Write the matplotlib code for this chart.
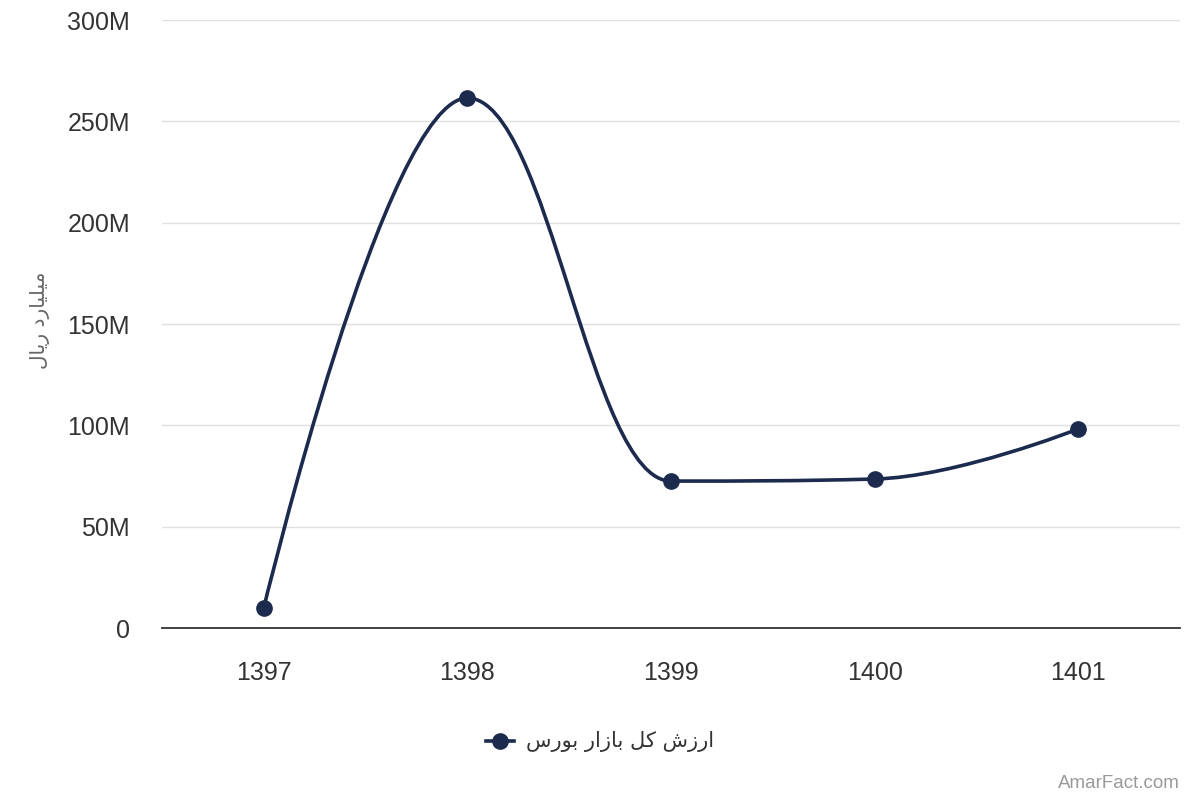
import numpy as np
import matplotlib
matplotlib.use("Agg")
import matplotlib.pyplot as plt
from matplotlib.path import Path
from matplotlib.patches import PathPatch
from matplotlib.lines import Line2D

years = ["1397", "1398", "1399", "1400", "1401"]
values = [9.9, 261.5, 72.5, 73.5, 98.2]  # millions
yticks = [0, 50, 100, 150, 200, 250, 300]
ytick_labels = ["0", "50M", "100M", "150M", "200M", "250M", "300M"]

# Persian text in presentation forms, visual (left-to-right) order
series_name_logical = "\uFE8D\uFEAD\uFEAF\uFEB5 \uFB90\uFEDE \uFE91\uFE8E\uFEAF\uFE8D\uFEAD \uFE91\uFEEE\uFEAD\uFEB1"
ylabel_logical = "\uFEE3\uFBFF\uFEE0\uFBFF\uFE8E\uFEAD\uFEA9 \uFEAD\uFBFE\uFE8E\uFEDD"
series_name = series_name_logical[::-1]
ylabel_text = ylabel_logical[::-1]

LINE = "#1c2a4e"
FONT = ["Liberation Sans", "DejaVu Sans"]
AR_FONT = ["DejaVu Sans"]

fig = plt.figure(figsize=(12, 8), dpi=100)
ax = fig.add_axes([162/1200, 1-628/800, (1180-162)/1200, (628-20)/800])

x = np.arange(len(years), dtype=float)
y = np.array(values, dtype=float)

# Highcharts-style spline control points
def spline_path(x, y, smoothing=1.5):
    n = len(x)
    denom = smoothing + 1
    lc = [(x[i], y[i]) for i in range(n)]
    rc = [(x[i], y[i]) for i in range(n)]
    for i in range(1, n - 1):
        px, py = x[i], y[i]
        lx, ly = x[i-1], y[i-1]
        nx, ny = x[i+1], y[i+1]
        lcx = (smoothing*px + lx)/denom
        lcy = (smoothing*py + ly)/denom
        rcx = (smoothing*px + nx)/denom
        rcy = (smoothing*py + ny)/denom
        if rcx != lcx:
            corr = ((rcy - lcy)*(rcx - px))/(rcx - lcx) + py - rcy
            lcy += corr
            rcy += corr
        if lcy > ly and lcy > py:
            lcy = max(ly, py); rcy = 2*py - lcy
        elif lcy < ly and lcy < py:
            lcy = min(ly, py); rcy = 2*py - lcy
        if rcy > ny and rcy > py:
            rcy = max(ny, py); lcy = 2*py - rcy
        elif rcy < ny and rcy < py:
            rcy = min(ny, py); lcy = 2*py - rcy
        lc[i] = (lcx, lcy)
        rc[i] = (rcx, rcy)
    verts = [(x[0], y[0])]
    codes = [Path.MOVETO]
    for i in range(1, n):
        verts += [rc[i-1], lc[i], (x[i], y[i])]
        codes += [Path.CURVE4]*3
    return Path(verts, codes)

ax.add_patch(PathPatch(spline_path(x, y), fill=False, edgecolor=LINE, lw=2.6,
                       zorder=3, capstyle="round", joinstyle="round"))
ax.plot(x, y, linestyle="none", marker="o", markersize=11, color=LINE, zorder=4)

ax.set_xlim(-0.5, len(years) - 0.5)
ax.set_ylim(0, 300)
ax.set_xticks(x)
ax.set_xticklabels(years)
ax.set_yticks(yticks)
ax.set_yticklabels(ytick_labels)
for s in ["top", "right", "left"]:
    ax.spines[s].set_visible(False)
ax.spines["bottom"].set_color("#333333")
ax.spines["bottom"].set_linewidth(1.3)
ax.grid(axis="y", color="#e0e0e0", lw=1)
ax.set_axisbelow(True)
ax.tick_params(axis="y", length=0, pad=23, labelsize=18, labelcolor="#333333")
ax.tick_params(axis="x", length=0, pad=24, labelsize=18, labelcolor="#333333")
for lab in ax.get_xticklabels() + ax.get_yticklabels():
    lab.set_family(FONT)

fig.text(40/1200, 1-320/800, ylabel_text, rotation=90, ha="center", va="center",
         fontsize=14.5, color="#666666", family=AR_FONT)

# legend
fig.add_artist(Line2D([486/1200, 514/1200], [1-741/800, 1-741/800], color=LINE, lw=2.6,
                      marker=None, transform=fig.transFigure))
fig.add_artist(Line2D([500/1200], [1-741/800], color=LINE, marker="o", markersize=11,
                      linestyle="none", transform=fig.transFigure))
fig.text(526/1200, 1-741/800, series_name, ha="left", va="center", fontsize=15,
         color="#333333", family=AR_FONT)

fig.text(1180/1200, 1-784/800, "AmarFact.com", ha="right", va="center", fontsize=13.5,
         color="#999999", family=FONT)

fig.savefig("out.png", dpi=100, facecolor="white")
